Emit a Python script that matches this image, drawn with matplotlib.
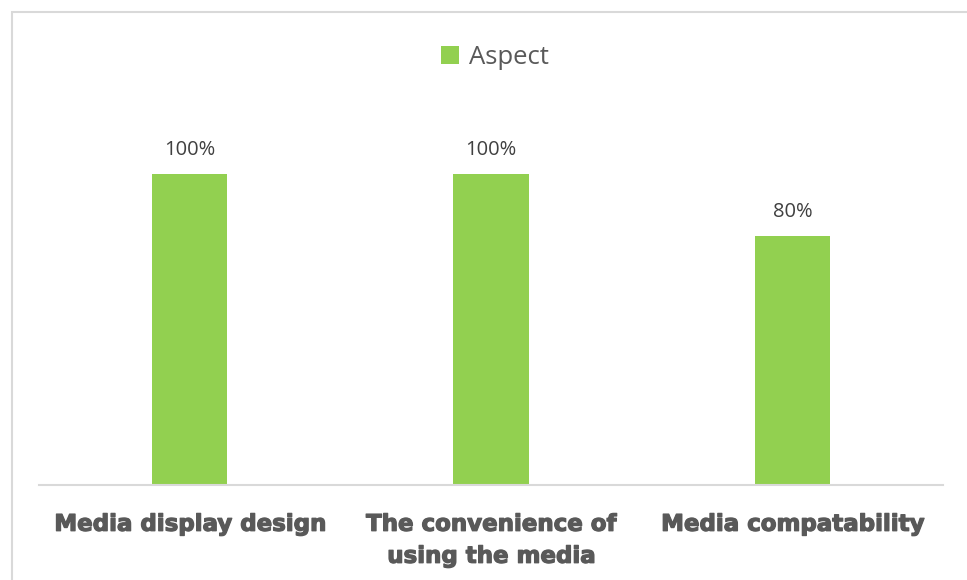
import matplotlib
matplotlib.use("Agg")
import matplotlib.pyplot as plt
from matplotlib.patches import Rectangle
import matplotlib.patheffects as pe

categories = ["Media display design", "The convenience of\nusing the media", "Media compatability"]
values = [1.00, 1.00, 0.80]
labels = ["100%", "100%", "80%"]
series_name = "Aspect"

W, H = 967, 580
fig = plt.figure(figsize=(W / 100, H / 100), dpi=100)
ax = fig.add_axes([39 / W, (H - 485) / H, (943 - 39) / W, (485 - 112) / H])

green = "#92d050"
x = range(len(categories))
bars = ax.bar(x, values, width=0.25, color=green, label=series_name, zorder=2)

ax.set_xlim(-0.5, len(categories) - 0.5)
ax.set_ylim(0, 1.2)
for s in ["top", "right", "left"]:
    ax.spines[s].set_visible(False)
ax.spines["bottom"].set_color("#d9d9d9")
ax.spines["bottom"].set_linewidth(1.5)
ax.set_yticks([])
ax.set_xticks(list(x))
ax.set_xticklabels(categories, fontsize=16.5, fontweight="heavy", color="#595959",
                   family="DejaVu Sans", linespacing=1.5)
for t in ax.get_xticklabels():
    t.set_path_effects([pe.withStroke(linewidth=0.9, foreground="#595959")])
ax.tick_params(axis="x", length=0, pad=20)

for b, lab in zip(bars, labels):
    ax.annotate(lab, (b.get_x() + b.get_width() / 2, b.get_height()),
                xytext=(0, 10), textcoords="offset points", ha="center", va="bottom",
                fontsize=14.5, color="#404040", family="Open Sans")

leg = fig.legend(handles=[bars], labels=[series_name], loc="center",
                 bbox_to_anchor=(495 / W, (H - 57) / H), frameon=False,
                 prop={"family": "Open Sans", "size": 18.5}, handlelength=0.7,
                 handleheight=0.7, handletextpad=0.4)
for t in leg.get_texts():
    t.set_color("#595959")

fig.patches.append(Rectangle((12 / W, -0.1), 1.2, (H - 12) / H + 0.1,
                             transform=fig.transFigure, fill=False,
                             edgecolor="#d9d9d9", linewidth=1.5, clip_on=False))

fig.savefig("out.png", dpi=100, facecolor="white")
